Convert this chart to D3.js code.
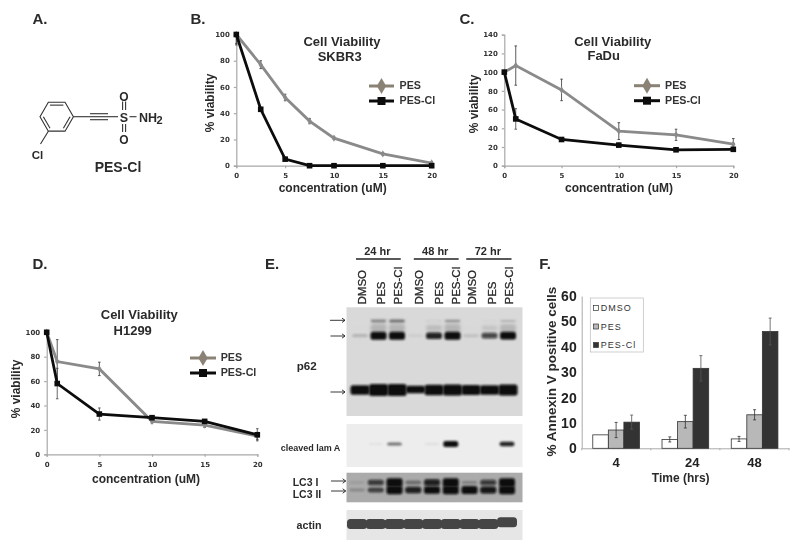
<!DOCTYPE html>
<html><head><meta charset="utf-8">
<script src="https://d3js.org/d3.v7.min.js"></script>
<style>
html,body{margin:0;padding:0;background:#fff}
svg{display:block;filter:blur(.35px)}
text{font-family:"Liberation Sans",Arial,sans-serif;fill:#2a2a2a}
.b{font-weight:700}
</style></head><body><div id="c"></div>
<script>
// ---- data ----
const seriesNames = ["PES","PES-Cl"];
const skbr3Conc = [0,2.5,5,7.5,10,15,20];
const skbr3Pes = [100,77,52,34,21,9,2];
const skbr3PesErr = [7,3,2.5,2,1,1,1];
const skbr3Cl = [100,43,5,0,0,0,0];
const skbr3ClErr = [8,1,1,0,0,0,0];
const doseConc = [0,1,5,10,15,20];
const fadPes = [100,107,81,37,33,23];
const fadPesErr = [0,21,11.5,9,6,6];
const fadCl = [100,50,28,22,17,17.5];
const fadClErr = [0,11,2,2,1.5,1.5];
const h1299Pes = [100,76,70,27,24,15];
const h1299PesErr = [0,18,5.5,1.5,2,3];
const h1299Cl = [100,58,33,30,27,16];
const h1299ClErr = [0,12.5,5,1.5,1.5,5];
const concTicks = [0,5,10,15,20];
const annexinTimes = ["4","24","48"];
const annexinNames = ["DMSO","PES","PES-Cl"];
const annexinDmso = [5.3,3.5,3.7];
const annexinDmsoErr = [0,1,1];
const annexinPes = [7.2,10.5,13.2];
const annexinPesErr = [3,2.5,2];
const annexinCl = [10.3,31.5,46];
const annexinClErr = [2.8,5,5.3];
const laneNames = ["DMSO","PES","PES-Cl","DMSO","PES","PES-Cl","DMSO","PES","PES-Cl"];
const timeGroups = ["24 hr","48 hr","72 hr"];
const p62Top = [0,.5,.65,0,.07,.45,0,.03,.25];
const p62Mid = [.14,1,1,.05,.75,1,.1,.6,.95];
const p62Low = [.9,1.35,1.3,.6,1.05,1.2,1,.95,1.15];
const lamA = [0,.05,.4,0,.07,1,0,0,.7];
const lc3One = [.1,.7,1.2,.35,.85,1.2,.25,.7,1.2];
const lc3Two = [.2,.6,1.2,.85,1,1.2,1.1,.9,1.2];
const actin = [.82,.85,.85,.85,.85,.85,.85,.85,.9];

const W=800,H=552;
const svg=d3.select("#c").append("svg").attr("width",W).attr("height",H).attr("viewBox",[0,0,W,H]);
const defs=svg.append("defs");
[["blur1",1.8],["blur2",.9],["soft",.5]].forEach(([id,s])=>{
  defs.append("filter").attr("id",id).attr("x","-40%").attr("y","-80%").attr("width","180%").attr("height","260%")
    .append("feGaussianBlur").attr("stdDeviation",s);
});
const label=(g,x,y,t,size,opt={})=>g.append("text").attr("x",x).attr("y",y).attr("text-anchor",opt.anchor||"middle")
  .attr("dominant-baseline","central").attr("font-size",size).attr("class",opt.normal?null:"b")
  .attr("transform",opt.rot?`rotate(${opt.rot} ${x} ${y})`:null)
  .style("letter-spacing",opt.ls||null).style("fill",opt.fill||null).text(t);

// panel letters
[["A.",40,18],["B.",198,18],["C.",467,18],["D.",40,263],["E.",272,263],["F.",545,263]]
  .forEach(([t,x,y])=>label(svg,x,y,t,15));

// ---- panel A: structure ----
(function(){
  const g=svg.append("g").attr("fill","none").attr("stroke","#333").attr("stroke-width",1.1);
  const cx=56.7,cy=116.7,r=16.7;
  const pts=d3.range(6).map(i=>[cx+r*Math.cos(i*Math.PI/3),cy+r*Math.sin(i*Math.PI/3)]);
  const closed=d3.line().curve(d3.curveLinearClosed);
  g.append("path").attr("d",closed(pts));
  const plain=d3.line();
  const inner=[[4,5],[0,1],[2,3]].map(([a,b])=>[pts[a],pts[b]].map(p=>[cx+(p[0]-cx)*.8,cy+(p[1]-cy)*.8]));
  inner.forEach(s=>g.append("path").attr("d",plain(s)));
  const seg=(a,b,c,d)=>g.append("path").attr("d",plain([[a,b],[c,d]]));
  seg(cx+r,cy,90,cy);
  seg(90,cy,108,cy); seg(90,cy-3,108,cy-3); seg(90,cy+3,108,cy+3);
  seg(108,cy,118,cy);
  seg(122.6,101.5,122.6,110); seg(125.6,101.5,125.6,110);
  seg(122.6,124,122.6,132); seg(125.6,124,125.6,132);
  seg(129.5,cy,136.5,cy);
  seg(pts[2][0],pts[2][1],40.5,144);
  label(svg,124,117.5,"S",12.5,{});
  label(svg,124,96.5,"O",12,{});
  label(svg,124,140,"O",12,{});
  label(svg,139,117.5,"NH",12.5,{anchor:"start"});
  label(svg,156.5,120,"2",11,{anchor:"start"});
  label(svg,37.5,155,"Cl",11.5,{});
  label(svg,118,167,"PES-Cl",14,{});
})();

// ---- line panels ----
function linePanel(cfg){
  const g=svg.append("g");
  const x=d3.scaleLinear().domain([0,20]).range(cfg.xr);
  const y=d3.scaleLinear().domain([0,cfg.ymax]).range(cfg.yr).clamp(true);
  const ax=g.append("g").attr("transform",`translate(0,${cfg.yr[0]})`).call(d3.axisBottom(x).tickValues(concTicks).tickSize(2.5).tickPadding(5));
  const ay=g.append("g").attr("transform",`translate(${cfg.xr[0]},0)`).call(d3.axisLeft(y).tickValues(d3.range(0,cfg.ymax+1,20)).tickSize(2.5).tickPadding(4));
  [ax,ay].forEach(a=>{
    a.selectAll("path,line").attr("stroke","#a8a8a8").attr("stroke-width",1.2);
    a.selectAll("text").style("font-family","'DejaVu Sans'").style("font-weight",700).attr("font-size",7).style("fill","#333");
  });
  const ln=d3.line().x(d=>x(d.c)).y(d=>y(d.v));
  const rows=(v,e)=>cfg.conc.map((c,i)=>({c,v:v[i],e:e[i]}));
  const err=(data,col)=>{
    const s=g.append("g").attr("stroke",col).attr("stroke-width",.8).attr("fill","none");
    data.filter(d=>d.e>0).forEach(d=>{
      s.append("line").attr("x1",x(d.c)).attr("x2",x(d.c)).attr("y1",y(d.v-d.e)).attr("y2",y(d.v+d.e));
      [d.v-d.e,d.v+d.e].forEach(q=>s.append("line").attr("x1",x(d.c)-1.3).attr("x2",x(d.c)+1.3).attr("y1",y(q)).attr("y2",y(q)));
    });
  };
  const pes=rows(cfg.pes,cfg.pesErr), cl=rows(cfg.cl,cfg.clErr);
  const diamond=d3.symbol().type(d3.symbolDiamond).size(16);
  err(pes,"#333");
  g.append("path").datum(pes).attr("d",ln).attr("fill","none").attr("stroke","#8a8a8a").attr("stroke-width",2.8);
  g.selectAll(null).data(pes).join("path").attr("d",diamond).attr("transform",d=>`translate(${x(d.c)},${y(d.v)})`).attr("fill","#8a8a8a");
  err(cl,"#444");
  g.append("path").datum(cl).attr("d",ln).attr("fill","none").attr("stroke","#0c0c0c").attr("stroke-width",2.8);
  g.selectAll(null).data(cl).join("rect").attr("x",d=>x(d.c)-2.8).attr("y",d=>y(d.v)-2.8).attr("width",5.6).attr("height",5.6).attr("fill","#0c0c0c");
  label(svg,cfg.t1[0],cfg.t1[1],"Cell Viability",13);
  label(svg,cfg.t2[0],cfg.t2[1],cfg.name,13);
  label(svg,cfg.xl[0],cfg.xl[1],"concentration (uM)",12);
  label(svg,cfg.yl[0],cfg.yl[1],"% viability",12,{rot:-90});
  const [lx0,lx1,ly,ty]=cfg.leg;
  seriesNames.forEach((n,i)=>{
    const yy=ly+i*15, col=i?"#0c0c0c":"#8a8275", mid=(lx0+lx1)/2;
    g.append("line").attr("x1",lx0).attr("x2",lx1).attr("y1",yy).attr("y2",yy).attr("stroke",col).attr("stroke-width",3);
    if(i) g.append("rect").attr("x",mid-4).attr("y",yy-4).attr("width",8).attr("height",8).attr("fill",col);
    else g.append("path").attr("d",d3.symbol().type(d3.symbolDiamond).size(75)).attr("transform",`translate(${mid},${yy})`).attr("fill",col);
    label(g,ty,yy-1,n,10.7,{anchor:"start",fill:"#333"});
  });
}
linePanel({xr:[236.3,431.7],yr:[165.7,34.5],ymax:100,conc:skbr3Conc,pes:skbr3Pes,pesErr:skbr3PesErr,cl:skbr3Cl,clErr:skbr3ClErr,
  name:"SKBR3",t1:[342,41.5],t2:[339.7,56],xl:[332.7,187.7],yl:[210,103],leg:[369,394,86,399.5]});
linePanel({xr:[504.3,733.3],yr:[165.7,34.7],ymax:140,conc:doseConc,pes:fadPes,pesErr:fadPesErr,cl:fadCl,clErr:fadClErr,
  name:"FaDu",t1:[612.7,41.5],t2:[603.7,55.5],xl:[619,188],yl:[474,104],leg:[634,660,85.7,665]});
linePanel({xr:[46.7,257.3],yr:[454.3,332.3],ymax:100,conc:doseConc,pes:h1299Pes,pesErr:h1299PesErr,cl:h1299Cl,clErr:h1299ClErr,
  name:"H1299",t1:[139.3,314.5],t2:[132.7,330.5],xl:[146,478.7],yl:[15.7,389],leg:[190,216,358,220.7]});

// ---- panel E: blots ----
(function(){
  const g=svg.append("g");
  const laneA=d3.scalePoint().domain(d3.range(9)).range([360,508]);
  const laneB=d3.scalePoint().domain(d3.range(9)).range([357,507]);
  const labelLane=d3.scalePoint().domain(d3.range(9)).range([361.5,508.5]);
  const labelNudge=[0,.8,-.5,2.7,4,2.3,0,1.6,0];
  const panel=(y0,y1,col)=>g.append("rect").attr("x",346.5).attr("y",y0).attr("width",176).attr("height",y1-y0).attr("fill",col);
  panel(307.3,416,"#d9d9d9"); panel(424,467,"#ededed"); panel(472.7,502.3,"#ababab"); panel(510,540,"#e6e6e6");
  const row=(vals,y,o)=>{
    const lane=o.lane||laneA, hw=o.w||8;
    g.selectAll(null).data(vals.map((v,i)=>({v,i})).filter(d=>d.v>0)).join("rect")
      .attr("x",d=>lane(d.i)-hw).attr("width",hw*2)
      .attr("y",d=>y+(o.dy?o.dy(d):0)-o.h(d.v)).attr("height",d=>2*o.h(d.v))
      .attr("rx",o.rx==null?2.5:o.rx)
      .attr("fill",o.col||"#0a0a0a").attr("fill-opacity",d=>Math.min(1,o.op?o.op(d.v):d.v))
      .attr("filter",`url(#${o.f||"blur2"})`);
  };
  row(p62Mid,328,{h:v=>4*v,op:v=>v*.17,f:"blur1"});
  row(p62Top,321,{h:v=>.8+1.2*v,op:v=>v*1.0,col:"#333"});
  row(p62Mid,335.7,{h:v=>1.2+2.8*v,op:v=>Math.min(1,v*1.2)});
  row(p62Low,390,{h:v=>2+3*v,w:9.5,op:()=>1,f:"blur2",dy:d=>d.i==3?-.5:0});
  row(lamA,444,{h:v=>.7+2.2*v,op:v=>Math.min(1,v*1.3),w:7.5,lane:laneB});
  row(lc3One,482.5,{h:v=>.9+2.8*v,w:8,op:v=>Math.min(1,v*1.05),lane:laneB});
  row(lc3Two,490,{h:v=>.9+2.8*v,w:8,op:v=>Math.min(1,v*1.05),lane:laneB});
  row(actin,524,{h:v=>5,w:10,col:"#444",f:"soft",op:()=>1,rx:3.5,lane:laneB,dy:d=>d.i==8?-1.8:0});

  laneNames.forEach((n,i)=>{
    g.append("text").attr("transform",`translate(${labelLane(i)+labelNudge[i]},304.5) rotate(-90)`).attr("font-size",11.5)
      .attr("dominant-baseline","central").style("stroke","#222").style("stroke-width",.3).text(n);
  });
  timeGroups.forEach((t,i)=>{
    const a=labelLane(i*3)+labelNudge[i*3]-5.5,b=labelLane(i*3+2)+labelNudge[i*3+2]+3;
    g.append("line").attr("x1",a).attr("x2",b).attr("y1",259).attr("y2",259).attr("stroke","#222").attr("stroke-width",1.4);
    label(g,(a+b)/2-1,251,t,11);
  });
  const arrow=(x0,x1,y)=>{
    g.append("path").attr("d",`M${x0},${y}H${x1}M${x1-3},${y-2.2}L${x1},${y}L${x1-3},${y+2.2}`).attr("fill","none").attr("stroke","#222").attr("stroke-width",.9);
  };
  arrow(330,345,320.3); arrow(330.5,345,336); arrow(330.5,345,392); arrow(331,345.7,481); arrow(331,345.7,491);
  label(g,306.7,365,"p62",11.6);
  label(g,310.5,448.3,"cleaved lam A",9);
  label(g,292.7,482.3,"LC3 I",10.5,{anchor:"start"});
  label(g,292.7,494.3,"LC3 II",10.5,{anchor:"start"});
  label(g,309,525,"actin",10.7);
})();

// ---- panel F: bars ----
(function(){
  const g=svg.append("g");
  const x=d3.scaleBand().domain(annexinTimes).range([581.7,789]).paddingInner(.326).paddingOuter(.16);
  const y=d3.scaleLinear().domain([0,60]).range([448.3,296]);
  const inner=d3.scaleBand().domain(annexinNames).range([0,x.bandwidth()]);
  const ax=g.append("g").attr("transform",`translate(0,${y(0)})`).call(d3.axisBottom(x).tickSize(0).tickPadding(9));
  ax.selectAll("path").attr("stroke","#aaa");
  ax.selectAll("text").attr("class","b").attr("font-size",13).attr("dx",d=>d==="24"?7:0).style("font-family","'Liberation Sans'").style("fill","#222");
  const bounds=[0,1,2,3].map(i=>581.7+i*(789-581.7)/3);
  g.selectAll(null).data(bounds).join("line").attr("x1",d=>d).attr("x2",d=>d).attr("y1",y(0)).attr("y2",y(0)+2).attr("stroke","#aaa");
  const ay=g.append("g").attr("transform",`translate(581.7,0)`).call(d3.axisLeft(y).ticks(6).tickSize(0).tickPadding(5));
  ay.select("path").attr("stroke","#aaa");
  ay.selectAll("text").attr("class","b").attr("font-size",14).style("font-family","'Liberation Sans'").style("fill","#222");
  const sets=[[annexinDmso,annexinDmsoErr,"#ffffff"],[annexinPes,annexinPesErr,"#b8b8b8"],[annexinCl,annexinClErr,"#333333"]];
  sets.forEach(([vals,errs,col],k)=>{
    const name=annexinNames[k];
    annexinTimes.forEach((t,i)=>{
      g.append("rect").attr("x",x(t)+inner(name)).attr("y",y(vals[i])).attr("width",inner.bandwidth()).attr("height",y(0)-y(vals[i]))
        .attr("fill",col).attr("stroke","#333").attr("stroke-width",.8);
    });
  });
  sets.forEach(([vals,errs,col],k)=>{
    const name=annexinNames[k];
    annexinTimes.forEach((t,i)=>{
      if(!errs[i])return;
      const c=x(t)+inner(name)+inner.bandwidth()/2;
      g.append("path").attr("d",`M${c},${y(vals[i]-errs[i])}V${y(vals[i]+errs[i])}M${c-1.5},${y(vals[i]-errs[i])}h3M${c-1.5},${y(vals[i]+errs[i])}h3`)
       .attr("fill","none").attr("stroke",k==2?"#555":"#333").attr("stroke-width",.8);
    });
  });
  label(svg,551.7,371.7,"% Annexin V positive cells",13.5,{rot:-90});
  label(svg,680.7,478,"Time (hrs)",12);
  g.append("rect").attr("x",590.3).attr("y",298).attr("width",53).attr("height",54).attr("fill","#fff").attr("stroke","#bbb").attr("stroke-width",.7);
  annexinNames.forEach((n,i)=>{
    const yy=308+i*18.5;
    g.append("rect").attr("x",593.5).attr("y",yy-2.5).attr("width",5).attr("height",5).attr("fill",sets[i][2]).attr("stroke","#333").attr("stroke-width",.7);
    label(g,600.7,yy,n,9,{anchor:"start",normal:true,ls:"1px",fill:"#333"});
  });
})();
</script></body></html>
